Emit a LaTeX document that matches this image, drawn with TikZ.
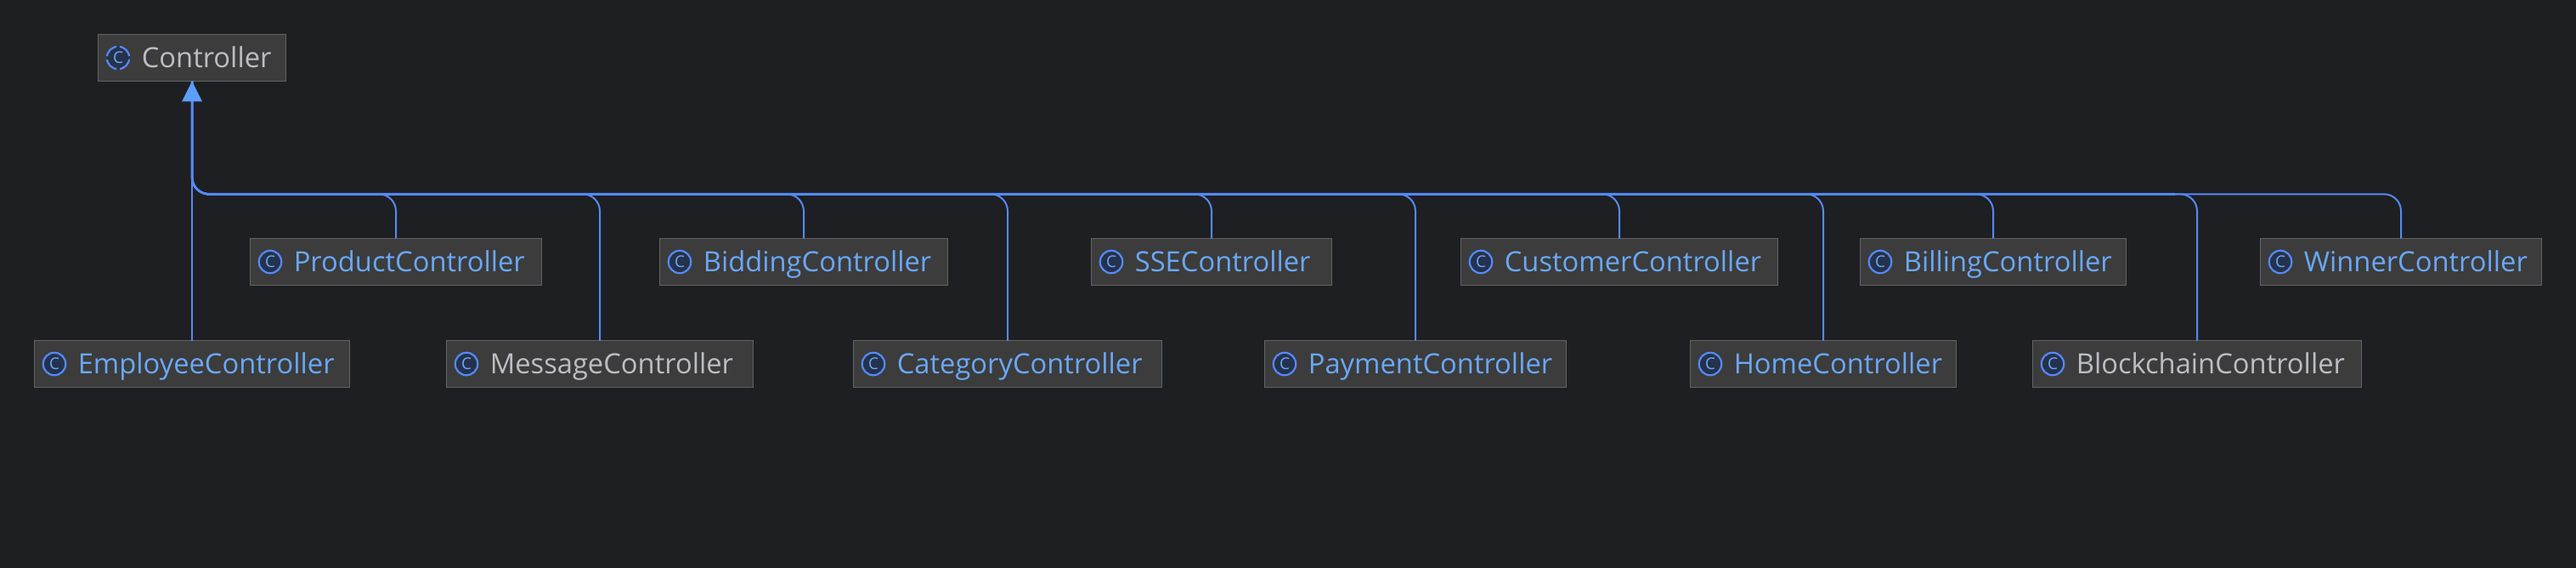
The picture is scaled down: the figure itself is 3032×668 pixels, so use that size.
\documentclass[tikz,border=0pt]{standalone}
\usepackage{fontspec}
\setmainfont{Open Sans}
\usepackage{xcolor}
\usetikzlibrary{arrows.meta,positioning}
\definecolor{canvasbg}{HTML}{1E1F22}
\definecolor{boxbg}{HTML}{3C3C3C}
\definecolor{boxline}{HTML}{636363}
\definecolor{linkblue}{HTML}{548AF7}
\definecolor{tipblue}{HTML}{5B9EF9}
\definecolor{nameblue}{HTML}{6AA8F8}
\definecolor{namegrey}{HTML}{BCBEC4}
\definecolor{iconbg}{HTML}{25324D}
\newcommand{\busy}{228.3}

\begin{document}
\begin{tikzpicture}[
  x=1pt, y=-1pt,
  ctlbox/.style={rectangle, draw=boxline, fill=boxbg, line width=1.5pt, inner xsep=0pt, inner ysep=0pt, outer sep=0pt, minimum height=55pt, text width=#1, align=left, text height=23.4pt, text depth=0pt, font=\fontsize{32.7}{36}\selectfont, execute at begin node={\hspace*{51.5pt}}},
  bluebox/.style={ctlbox=#1, text=nameblue},
  greybox/.style={ctlbox=#1, text=namegrey},
  classicon/.style={circle, draw=linkblue, fill=iconbg, line width=2.2pt, inner sep=0pt, minimum size=26.5pt, text=nameblue, font=\fontsize{19}{19}\selectfont},
  abstracticon/.style={classicon, dash pattern=on 16.8pt off 4pt, dash phase=18.8pt},
  trunk/.style={draw=linkblue, line width=2.8pt, rounded corners=20pt},
  branch/.style={draw=linkblue, line width=2pt, rounded corners=20pt}
]
  \useasboundingbox[fill=canvasbg] (0,0) rectangle (3032,668);

  \node[greybox=221.4] (controller) at (226,68) {Controller};
  \node[bluebox=343.4] (product) at (466,308) {ProductController};
  \node[bluebox=371.4] (employee) at (226,428) {EmployeeController};
  \node[greybox=361.4] (message) at (706,428) {MessageController};
  \node[bluebox=339.4] (bidding) at (946,308) {BiddingController};
  \node[bluebox=363.4] (category) at (1186,428) {CategoryController};
  \node[bluebox=283.4] (sse) at (1426,308) {SSEController};
  \node[bluebox=355.4] (payment) at (1666,428) {PaymentController};
  \node[bluebox=373.4] (customer) at (1906,308) {CustomerController};
  \node[bluebox=313.4] (home) at (2146,428) {HomeController};
  \node[bluebox=313.4] (billing) at (2346,308) {BillingController};
  \node[greybox=387.4] (blockchain) at (2586,428) {BlockchainController};
  \node[bluebox=331.4] (winner) at (2826,308) {WinnerController};

  \node[abstracticon] (controllericon) at ([xshift=23.7]controller.west) {C};
  \node[classicon] (producticon) at ([xshift=23.7]product.west) {C};
  \node[classicon] (employeeicon) at ([xshift=23.7]employee.west) {C};
  \node[classicon] (messageicon) at ([xshift=23.7]message.west) {C};
  \node[classicon] (biddingicon) at ([xshift=23.7]bidding.west) {C};
  \node[classicon] (categoryicon) at ([xshift=23.7]category.west) {C};
  \node[classicon] (sseicon) at ([xshift=23.7]sse.west) {C};
  \node[classicon] (paymenticon) at ([xshift=23.7]payment.west) {C};
  \node[classicon] (customericon) at ([xshift=23.7]customer.west) {C};
  \node[classicon] (homeicon) at ([xshift=23.7]home.west) {C};
  \node[classicon] (billingicon) at ([xshift=23.7]billing.west) {C};
  \node[classicon] (blockchainicon) at ([xshift=23.7]blockchain.west) {C};
  \node[classicon] (winnericon) at ([xshift=23.7]winner.west) {C};

  \coordinate (buscorner) at (226,\busy);

  \draw[branch] (employee.north) -- (controller.south);
  \draw[branch] (product.north) |- (buscorner) -- (controller.south);
  \draw[branch] (message.north) |- (buscorner) -- (controller.south);
  \draw[branch] (bidding.north) |- (buscorner) -- (controller.south);
  \draw[branch] (category.north) |- (buscorner) -- (controller.south);
  \draw[branch] (sse.north) |- (buscorner) -- (controller.south);
  \draw[branch] (payment.north) |- (buscorner) -- (controller.south);
  \draw[branch] (customer.north) |- (buscorner) -- (controller.south);
  \draw[branch] (home.north) |- (buscorner) -- (controller.south);
  \draw[branch] (billing.north) |- (buscorner) -- (controller.south);
  \draw[branch] (blockchain.north) |- (buscorner) -- (controller.south);
  \draw[branch] (winner.north) |- (buscorner) -- (controller.south);

  \coordinate (busend) at (2560,\busy);
  \draw[trunk] (busend) -- (buscorner) -- (controller.south);
  \fill[tipblue] (controller.south) -- ++(12,24) -- ++(-24,0) -- cycle;
\end{tikzpicture}
\end{document}
